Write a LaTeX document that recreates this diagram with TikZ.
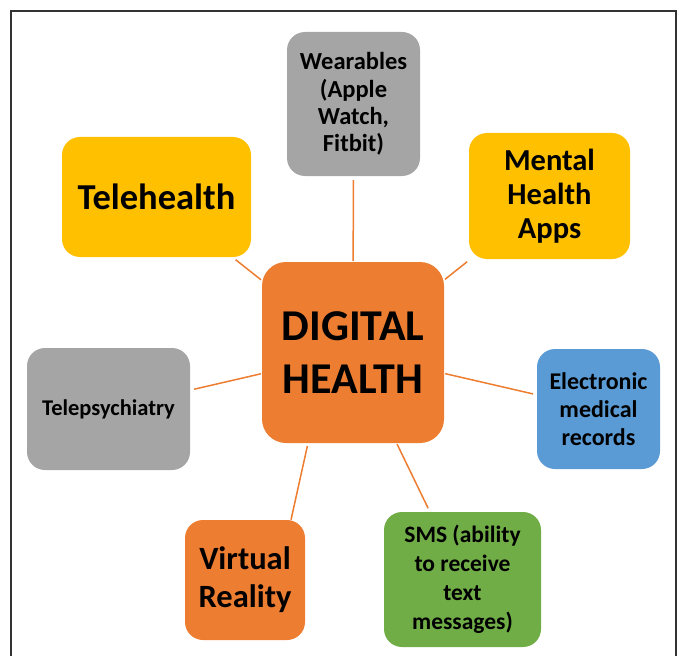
\documentclass[tikz,border=0pt]{standalone}
\usepackage{fontspec}
\setmainfont{Carlito}
\definecolor{dhgray}{HTML}{A5A5A5}
\definecolor{dhyellow}{HTML}{FFC000}
\definecolor{dhorange}{HTML}{ED7D31}
\definecolor{dhblue}{HTML}{5B9BD5}
\definecolor{dhgreen}{HTML}{70AD47}
\begin{document}
\begin{tikzpicture}[x=1pt, y=-1pt,
        box/.style={rounded corners=18pt, align=center, inner sep=0pt},
        link/.style={draw=dhorange, line width=1.5pt, shorten <=4pt, shorten >=1pt}]
        \useasboundingbox (0,0) rectangle (679,655);
        \draw[line width=1.2pt, black!80] (11,662) -- (11,11) -- (676,11) -- (676,662);

        % centre
        \node[box, rounded corners=24pt, fill=dhorange, minimum width=182pt, minimum height=181pt,
            font=\bfseries\fontsize{44}{53}\selectfont] (dh) at (353,352.5) {DIGITAL\\HEALTH};

        % outer boxes
        \node[box, fill=dhgray, minimum width=133pt, minimum height=144pt,
            font=\bfseries\fontsize{24.5}{27.3}\selectfont] (wear) at (353.5,104) {Wearables\\(Apple\\Watch,\\Fitbit)};
        \node[box, fill=dhyellow, minimum width=189pt, minimum height=120pt,
            font=\bfseries\fontsize{36.5}{42}\selectfont] (tele) at (156.5,197) {Telehealth};
        \node[box, fill=dhyellow, minimum width=161pt, minimum height=126pt,
            font=\bfseries\fontsize{30.5}{34}\selectfont] (mental) at (549.5,196) {Mental\\Health\\Apps};
        \node[box, fill=dhgray, minimum width=163pt, minimum height=122pt,
            font=\bfseries\fontsize{22.5}{26}\selectfont] (psych) at (108.5,409) {Telepsychiatry};
        \node[box, fill=dhblue, minimum width=123pt, minimum height=120pt,
            font=\bfseries\fontsize{24}{28}\selectfont] (emr) at (598.5,409) {Electronic\\medical\\records};
        \node[box, fill=dhorange, minimum width=120pt, minimum height=120pt,
            font=\bfseries\fontsize{32.5}{38}\selectfont] (vr) at (245,580) {Virtual\\Reality};
        \node[box, fill=dhgreen, minimum width=157pt, minimum height=135pt,
            font=\bfseries\fontsize{23.5}{29}\selectfont] (sms) at (462.5,579.5) {SMS (ability\\to receive\\text\\messages)};

        % spokes
        \draw[link] (wear) -- (dh);
        \draw[link] (tele) -- (dh);
        \draw[link] (mental) -- (dh);
        \draw[link] (psych) -- (dh);
        \draw[link] (emr) -- (dh);
        \draw[link] (sms) -- (dh);
        \draw[link, shorten <=0pt, shorten >=3pt] ([xshift=46pt]vr.north) -- ([xshift=-45pt]dh.south);
\end{tikzpicture}
\end{document}
